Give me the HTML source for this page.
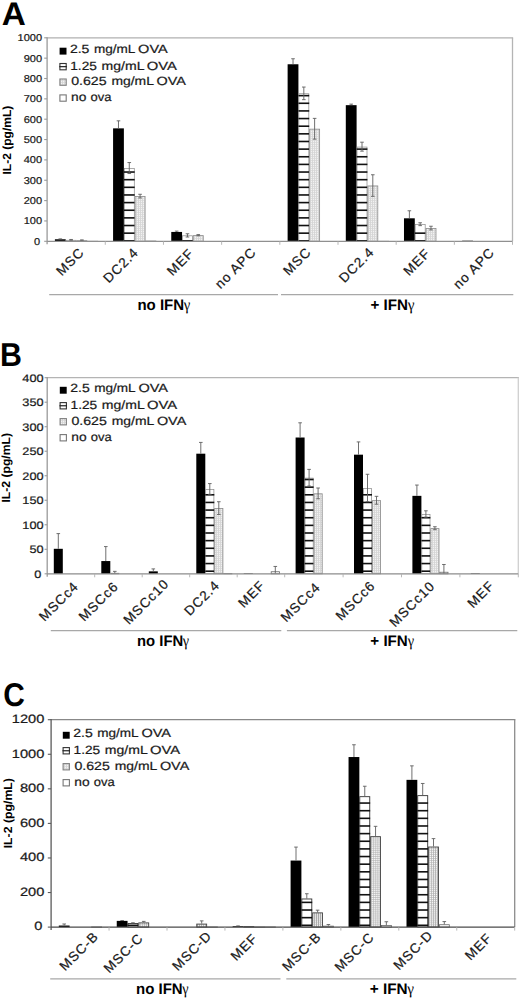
<!DOCTYPE html><html><head><meta charset="utf-8"><style>html,body{margin:0;padding:0;background:#fff;}svg{display:block;text-rendering:geometricPrecision;}</style></head><body>
<svg width="520" height="999" viewBox="0 0 520 999" font-family='"Liberation Sans", sans-serif'>
<defs><pattern id="grid" patternUnits="userSpaceOnUse" width="2" height="2"><rect width="2" height="2" fill="#f2f2f2"/><rect x="0" y="0" width="0.7" height="2" fill="#cdcdcd"/><rect x="0" y="0" width="2" height="0.7" fill="#d6d6d6"/></pattern><pattern id="gridc" patternUnits="userSpaceOnUse" width="2.05" height="1.95" x="0.4"><rect width="2.05" height="1.95" fill="#fafafa"/><rect x="0" y="0" width="0.6" height="1.95" fill="#9a9a9a"/><rect x="0" y="0" width="2.05" height="0.6" fill="#b0b0b0"/></pattern></defs>
<rect width="520" height="999" fill="#fff"/>
<text transform="translate(1.73 24.9) scale(1.02 1)" font-size="32.7" font-weight="bold" fill="#000">A</text>
<line x1="47.1" y1="37.8" x2="513.15" y2="37.8" stroke="#b0b0b0" stroke-width="1.3"/>
<line x1="512.5" y1="37.8" x2="512.5" y2="241.3" stroke="#b4b4b4" stroke-width="1.3"/>
<line x1="44.2" y1="241.3" x2="47.1" y2="241.3" stroke="#9a9a9a" stroke-width="1.1"/>
<text transform="translate(34.1 244.84) scale(1.1 1)" font-size="10" stroke="#1a1a1a" stroke-width="0.22" fill="#1a1a1a">0</text>
<line x1="44.2" y1="220.95" x2="47.1" y2="220.95" stroke="#9a9a9a" stroke-width="1.1"/>
<text transform="translate(23.67 224.49) scale(1.1 1)" font-size="10" stroke="#1a1a1a" stroke-width="0.22" fill="#1a1a1a">100</text>
<line x1="44.2" y1="200.6" x2="47.1" y2="200.6" stroke="#9a9a9a" stroke-width="1.1"/>
<text transform="translate(23.67 204.14) scale(1.1 1)" font-size="10" stroke="#1a1a1a" stroke-width="0.22" fill="#1a1a1a">200</text>
<line x1="44.2" y1="180.25" x2="47.1" y2="180.25" stroke="#9a9a9a" stroke-width="1.1"/>
<text transform="translate(23.67 183.79) scale(1.1 1)" font-size="10" stroke="#1a1a1a" stroke-width="0.22" fill="#1a1a1a">300</text>
<line x1="44.2" y1="159.9" x2="47.1" y2="159.9" stroke="#9a9a9a" stroke-width="1.1"/>
<text transform="translate(23.67 163.44) scale(1.1 1)" font-size="10" stroke="#1a1a1a" stroke-width="0.22" fill="#1a1a1a">400</text>
<line x1="44.2" y1="139.55" x2="47.1" y2="139.55" stroke="#9a9a9a" stroke-width="1.1"/>
<text transform="translate(23.67 143.09) scale(1.1 1)" font-size="10" stroke="#1a1a1a" stroke-width="0.22" fill="#1a1a1a">500</text>
<line x1="44.2" y1="119.2" x2="47.1" y2="119.2" stroke="#9a9a9a" stroke-width="1.1"/>
<text transform="translate(23.67 122.74) scale(1.1 1)" font-size="10" stroke="#1a1a1a" stroke-width="0.22" fill="#1a1a1a">600</text>
<line x1="44.2" y1="98.85" x2="47.1" y2="98.85" stroke="#9a9a9a" stroke-width="1.1"/>
<text transform="translate(23.67 102.39) scale(1.1 1)" font-size="10" stroke="#1a1a1a" stroke-width="0.22" fill="#1a1a1a">700</text>
<line x1="44.2" y1="78.5" x2="47.1" y2="78.5" stroke="#9a9a9a" stroke-width="1.1"/>
<text transform="translate(23.67 82.04) scale(1.1 1)" font-size="10" stroke="#1a1a1a" stroke-width="0.22" fill="#1a1a1a">800</text>
<line x1="44.2" y1="58.15" x2="47.1" y2="58.15" stroke="#9a9a9a" stroke-width="1.1"/>
<text transform="translate(23.67 61.69) scale(1.1 1)" font-size="10" stroke="#1a1a1a" stroke-width="0.22" fill="#1a1a1a">900</text>
<line x1="44.2" y1="37.8" x2="47.1" y2="37.8" stroke="#9a9a9a" stroke-width="1.1"/>
<text transform="translate(17.55 41.34) scale(1.1 1)" font-size="10" stroke="#1a1a1a" stroke-width="0.22" fill="#1a1a1a">1000</text>
<rect x="54.9" y="239.27" width="10.8" height="2.03" fill="#000"/>
<line x1="60.3" y1="238.86" x2="60.3" y2="239.27" stroke="#606060" stroke-width="0.9"/>
<line x1="58.5" y1="238.86" x2="62.1" y2="238.86" stroke="#606060" stroke-width="0.9"/>
<rect x="66.1" y="240.28" width="10" height="1.02" fill="#fff" stroke="#888" stroke-width="0.7"/>
<line x1="71.1" y1="239.47" x2="71.1" y2="240.28" stroke="#606060" stroke-width="0.9"/>
<line x1="69.3" y1="239.47" x2="72.9" y2="239.47" stroke="#606060" stroke-width="0.9"/>
<line x1="69.3" y1="240.28" x2="72.9" y2="240.28" stroke="#606060" stroke-width="0.9"/>
<rect x="76.9" y="240.68" width="10" height="0.62" fill="url(#grid)" stroke="#8a8a8a" stroke-width="0.8"/>
<line x1="81.9" y1="239.88" x2="81.9" y2="240.69" stroke="#606060" stroke-width="0.9"/>
<line x1="80.1" y1="239.88" x2="83.7" y2="239.88" stroke="#606060" stroke-width="0.9"/>
<line x1="80.1" y1="240.69" x2="83.7" y2="240.69" stroke="#606060" stroke-width="0.9"/>
<rect x="87.7" y="241.29" width="10" height="0.01" fill="#fff" stroke="#666" stroke-width="0.8"/>
<rect x="113.08" y="128.36" width="10.8" height="112.94" fill="#000"/>
<line x1="118.48" y1="120.83" x2="118.48" y2="128.36" stroke="#606060" stroke-width="0.9"/>
<line x1="116.68" y1="120.83" x2="120.28" y2="120.83" stroke="#606060" stroke-width="0.9"/>
<rect x="124.28" y="168.44" width="10" height="72.86" fill="#fff" stroke="#888" stroke-width="0.7"/>
<rect x="123.88" y="240" width="10.8" height="1.6" fill="#111"/>
<rect x="123.88" y="232.36" width="10.8" height="1.6" fill="#111"/>
<rect x="123.88" y="224.72" width="10.8" height="1.6" fill="#111"/>
<rect x="123.88" y="217.08" width="10.8" height="1.6" fill="#111"/>
<rect x="123.88" y="209.44" width="10.8" height="1.6" fill="#111"/>
<rect x="123.88" y="201.8" width="10.8" height="1.6" fill="#111"/>
<rect x="123.88" y="194.16" width="10.8" height="1.6" fill="#111"/>
<rect x="123.88" y="186.52" width="10.8" height="1.6" fill="#111"/>
<rect x="123.88" y="178.88" width="10.8" height="1.6" fill="#111"/>
<rect x="123.88" y="171.24" width="10.8" height="1.6" fill="#111"/>
<line x1="129.28" y1="162.55" x2="129.28" y2="173.53" stroke="#606060" stroke-width="0.9"/>
<line x1="127.48" y1="162.55" x2="131.08" y2="162.55" stroke="#606060" stroke-width="0.9"/>
<line x1="127.48" y1="173.53" x2="131.08" y2="173.53" stroke="#606060" stroke-width="0.9"/>
<rect x="135.08" y="196.52" width="10" height="44.78" fill="url(#grid)" stroke="#8a8a8a" stroke-width="0.8"/>
<line x1="140.08" y1="194.29" x2="140.08" y2="197.95" stroke="#606060" stroke-width="0.9"/>
<line x1="138.28" y1="194.29" x2="141.88" y2="194.29" stroke="#606060" stroke-width="0.9"/>
<line x1="138.28" y1="197.95" x2="141.88" y2="197.95" stroke="#606060" stroke-width="0.9"/>
<rect x="145.88" y="241.09" width="10" height="0.21" fill="#fff" stroke="#666" stroke-width="0.8"/>
<rect x="171.26" y="231.94" width="10.8" height="9.36" fill="#000"/>
<line x1="176.66" y1="231.12" x2="176.66" y2="231.94" stroke="#606060" stroke-width="0.9"/>
<line x1="174.86" y1="231.12" x2="178.46" y2="231.12" stroke="#606060" stroke-width="0.9"/>
<rect x="182.46" y="235.8" width="10" height="5.5" fill="#fff" stroke="#888" stroke-width="0.7"/>
<rect x="182.06" y="240" width="10.8" height="1.6" fill="#111"/>
<line x1="187.46" y1="233.77" x2="187.46" y2="237.03" stroke="#606060" stroke-width="0.9"/>
<line x1="185.66" y1="233.77" x2="189.26" y2="233.77" stroke="#606060" stroke-width="0.9"/>
<line x1="185.66" y1="237.03" x2="189.26" y2="237.03" stroke="#606060" stroke-width="0.9"/>
<rect x="193.26" y="235.6" width="10" height="5.7" fill="url(#grid)" stroke="#8a8a8a" stroke-width="0.8"/>
<line x1="198.26" y1="234.58" x2="198.26" y2="235.81" stroke="#606060" stroke-width="0.9"/>
<line x1="196.46" y1="234.58" x2="200.06" y2="234.58" stroke="#606060" stroke-width="0.9"/>
<line x1="196.46" y1="235.81" x2="200.06" y2="235.81" stroke="#606060" stroke-width="0.9"/>
<rect x="229.44" y="241.1" width="10.8" height="0.2" fill="#000"/>
<rect x="287.62" y="64.26" width="10.8" height="177.04" fill="#000"/>
<line x1="293.02" y1="58.76" x2="293.02" y2="64.26" stroke="#606060" stroke-width="0.9"/>
<line x1="291.22" y1="58.76" x2="294.82" y2="58.76" stroke="#606060" stroke-width="0.9"/>
<rect x="298.82" y="93.76" width="10" height="147.54" fill="#fff" stroke="#888" stroke-width="0.7"/>
<rect x="298.42" y="240" width="10.8" height="1.6" fill="#111"/>
<rect x="298.42" y="232.36" width="10.8" height="1.6" fill="#111"/>
<rect x="298.42" y="224.72" width="10.8" height="1.6" fill="#111"/>
<rect x="298.42" y="217.08" width="10.8" height="1.6" fill="#111"/>
<rect x="298.42" y="209.44" width="10.8" height="1.6" fill="#111"/>
<rect x="298.42" y="201.8" width="10.8" height="1.6" fill="#111"/>
<rect x="298.42" y="194.16" width="10.8" height="1.6" fill="#111"/>
<rect x="298.42" y="186.52" width="10.8" height="1.6" fill="#111"/>
<rect x="298.42" y="178.88" width="10.8" height="1.6" fill="#111"/>
<rect x="298.42" y="171.24" width="10.8" height="1.6" fill="#111"/>
<rect x="298.42" y="163.6" width="10.8" height="1.6" fill="#111"/>
<rect x="298.42" y="155.96" width="10.8" height="1.6" fill="#111"/>
<rect x="298.42" y="148.32" width="10.8" height="1.6" fill="#111"/>
<rect x="298.42" y="140.68" width="10.8" height="1.6" fill="#111"/>
<rect x="298.42" y="133.04" width="10.8" height="1.6" fill="#111"/>
<rect x="298.42" y="125.4" width="10.8" height="1.6" fill="#111"/>
<rect x="298.42" y="117.76" width="10.8" height="1.6" fill="#111"/>
<rect x="298.42" y="110.12" width="10.8" height="1.6" fill="#111"/>
<rect x="298.42" y="102.48" width="10.8" height="1.6" fill="#111"/>
<rect x="298.42" y="94.84" width="10.8" height="1.6" fill="#111"/>
<line x1="303.82" y1="87.05" x2="303.82" y2="99.66" stroke="#606060" stroke-width="0.9"/>
<line x1="302.02" y1="87.05" x2="305.62" y2="87.05" stroke="#606060" stroke-width="0.9"/>
<line x1="302.02" y1="99.66" x2="305.62" y2="99.66" stroke="#606060" stroke-width="0.9"/>
<rect x="309.62" y="129.16" width="10" height="112.14" fill="url(#grid)" stroke="#8a8a8a" stroke-width="0.8"/>
<line x1="314.62" y1="118.39" x2="314.62" y2="139.14" stroke="#606060" stroke-width="0.9"/>
<line x1="312.82" y1="118.39" x2="316.42" y2="118.39" stroke="#606060" stroke-width="0.9"/>
<line x1="312.82" y1="139.14" x2="316.42" y2="139.14" stroke="#606060" stroke-width="0.9"/>
<rect x="345.8" y="105.16" width="10.8" height="136.14" fill="#000"/>
<line x1="351.2" y1="104.14" x2="351.2" y2="105.16" stroke="#606060" stroke-width="0.9"/>
<line x1="349.4" y1="104.14" x2="353" y2="104.14" stroke="#606060" stroke-width="0.9"/>
<rect x="357" y="147.07" width="10" height="94.23" fill="#fff" stroke="#888" stroke-width="0.7"/>
<rect x="356.6" y="240" width="10.8" height="1.6" fill="#111"/>
<rect x="356.6" y="232.36" width="10.8" height="1.6" fill="#111"/>
<rect x="356.6" y="224.72" width="10.8" height="1.6" fill="#111"/>
<rect x="356.6" y="217.08" width="10.8" height="1.6" fill="#111"/>
<rect x="356.6" y="209.44" width="10.8" height="1.6" fill="#111"/>
<rect x="356.6" y="201.8" width="10.8" height="1.6" fill="#111"/>
<rect x="356.6" y="194.16" width="10.8" height="1.6" fill="#111"/>
<rect x="356.6" y="186.52" width="10.8" height="1.6" fill="#111"/>
<rect x="356.6" y="178.88" width="10.8" height="1.6" fill="#111"/>
<rect x="356.6" y="171.24" width="10.8" height="1.6" fill="#111"/>
<rect x="356.6" y="163.6" width="10.8" height="1.6" fill="#111"/>
<rect x="356.6" y="155.96" width="10.8" height="1.6" fill="#111"/>
<rect x="356.6" y="148.32" width="10.8" height="1.6" fill="#111"/>
<line x1="362" y1="142.2" x2="362" y2="151.15" stroke="#606060" stroke-width="0.9"/>
<line x1="360.2" y1="142.2" x2="363.8" y2="142.2" stroke="#606060" stroke-width="0.9"/>
<line x1="360.2" y1="151.15" x2="363.8" y2="151.15" stroke="#606060" stroke-width="0.9"/>
<rect x="367.8" y="185.94" width="10" height="55.36" fill="url(#grid)" stroke="#8a8a8a" stroke-width="0.8"/>
<line x1="372.8" y1="174.76" x2="372.8" y2="196.33" stroke="#606060" stroke-width="0.9"/>
<line x1="371" y1="174.76" x2="374.6" y2="174.76" stroke="#606060" stroke-width="0.9"/>
<line x1="371" y1="196.33" x2="374.6" y2="196.33" stroke="#606060" stroke-width="0.9"/>
<rect x="378.6" y="241.29" width="10" height="0.01" fill="#fff" stroke="#666" stroke-width="0.8"/>
<rect x="403.98" y="218.3" width="10.8" height="23" fill="#000"/>
<line x1="409.38" y1="210.78" x2="409.38" y2="218.3" stroke="#606060" stroke-width="0.9"/>
<line x1="407.58" y1="210.78" x2="411.18" y2="210.78" stroke="#606060" stroke-width="0.9"/>
<rect x="415.18" y="224.61" width="10" height="16.69" fill="#fff" stroke="#888" stroke-width="0.7"/>
<rect x="414.78" y="240" width="10.8" height="1.6" fill="#111"/>
<rect x="414.78" y="232.36" width="10.8" height="1.6" fill="#111"/>
<line x1="420.18" y1="222.78" x2="420.18" y2="225.63" stroke="#606060" stroke-width="0.9"/>
<line x1="418.38" y1="222.78" x2="421.98" y2="222.78" stroke="#606060" stroke-width="0.9"/>
<line x1="418.38" y1="225.63" x2="421.98" y2="225.63" stroke="#606060" stroke-width="0.9"/>
<rect x="425.98" y="228.47" width="10" height="12.83" fill="url(#grid)" stroke="#8a8a8a" stroke-width="0.8"/>
<line x1="430.98" y1="226.24" x2="430.98" y2="229.9" stroke="#606060" stroke-width="0.9"/>
<line x1="429.18" y1="226.24" x2="432.78" y2="226.24" stroke="#606060" stroke-width="0.9"/>
<line x1="429.18" y1="229.9" x2="432.78" y2="229.9" stroke="#606060" stroke-width="0.9"/>
<rect x="462.16" y="240.69" width="10.8" height="0.61" fill="#000"/>
<line x1="47.1" y1="37.2" x2="47.1" y2="244.3" stroke="#9a9a9a" stroke-width="1.3"/>
<line x1="47.1" y1="241.3" x2="512.5" y2="241.3" stroke="#909090" stroke-width="1.2"/>
<line x1="105.28" y1="241.3" x2="105.28" y2="244.8" stroke="#b0b0b0" stroke-width="0.9"/>
<line x1="163.46" y1="241.3" x2="163.46" y2="244.8" stroke="#b0b0b0" stroke-width="0.9"/>
<line x1="221.64" y1="241.3" x2="221.64" y2="244.8" stroke="#b0b0b0" stroke-width="0.9"/>
<line x1="279.82" y1="241.3" x2="279.82" y2="244.8" stroke="#b0b0b0" stroke-width="0.9"/>
<line x1="338" y1="241.3" x2="338" y2="244.8" stroke="#b0b0b0" stroke-width="0.9"/>
<line x1="396.18" y1="241.3" x2="396.18" y2="244.8" stroke="#b0b0b0" stroke-width="0.9"/>
<line x1="454.36" y1="241.3" x2="454.36" y2="244.8" stroke="#b0b0b0" stroke-width="0.9"/>
<line x1="512.5" y1="241.3" x2="512.5" y2="244.8" stroke="#b0b0b0" stroke-width="0.9"/>
<text x="85" y="253.2" font-size="13.5" letter-spacing="1.0" text-anchor="end" fill="#1a1a1a" stroke="#1a1a1a" stroke-width="0.22" transform="rotate(-45 85 253.2)">MSC</text>
<text x="139.4" y="253.2" font-size="13.5" letter-spacing="1.0" text-anchor="end" fill="#1a1a1a" stroke="#1a1a1a" stroke-width="0.22" transform="rotate(-45 139.4 253.2)">DC2.4</text>
<text x="194.8" y="254.2" font-size="13.5" letter-spacing="1.0" text-anchor="end" fill="#1a1a1a" stroke="#1a1a1a" stroke-width="0.22" transform="rotate(-45 194.8 254.2)">MEF</text>
<text x="257" y="253" font-size="13.5" letter-spacing="1.0" text-anchor="end" fill="#1a1a1a" stroke="#1a1a1a" stroke-width="0.22" transform="rotate(-45 257 253)">no APC</text>
<text x="312" y="252.8" font-size="13.5" letter-spacing="1.0" text-anchor="end" fill="#1a1a1a" stroke="#1a1a1a" stroke-width="0.22" transform="rotate(-45 312 252.8)">MSC</text>
<text x="375" y="252.8" font-size="13.5" letter-spacing="1.0" text-anchor="end" fill="#1a1a1a" stroke="#1a1a1a" stroke-width="0.22" transform="rotate(-45 375 252.8)">DC2.4</text>
<text x="431.2" y="254.2" font-size="13.5" letter-spacing="1.0" text-anchor="end" fill="#1a1a1a" stroke="#1a1a1a" stroke-width="0.22" transform="rotate(-45 431.2 254.2)">MEF</text>
<text x="495.4" y="253.2" font-size="13.5" letter-spacing="1.0" text-anchor="end" fill="#1a1a1a" stroke="#1a1a1a" stroke-width="0.22" transform="rotate(-45 495.4 253.2)">no APC</text>
<line x1="49.2" y1="294.6" x2="278" y2="294.6" stroke="#a8a8a8" stroke-width="1.3"/>
<line x1="281" y1="294.6" x2="513.3" y2="294.6" stroke="#a8a8a8" stroke-width="1.3"/>
<text transform="translate(137.41 310.1) scale(0.98 1)" font-size="15.3" font-weight="bold" fill="#000">no IFN</text>
<text transform="translate(183.74 310.1) scale(0.91 1)" font-size="16.2" font-family="Liberation Serif, serif" fill="#000">γ</text>
<text transform="translate(370.56 310.3) scale(0.99 1)" font-size="15.3" font-weight="bold" fill="#000">+ IFN</text>
<text transform="translate(407.84 310.3) scale(0.94 1)" font-size="16.2" font-family="Liberation Serif, serif" fill="#000">γ</text>
<text transform="translate(11.1 174.5) rotate(-90) scale(1.02 1)" font-size="11.8" font-weight="bold" fill="#000">IL-2 (pg/mL)</text>
<rect x="59.6" y="47.7" width="6.9" height="6.9" fill="#000"/>
<text transform="translate(69.9 53.3) scale(1.17 1)" font-size="12" stroke="#1a1a1a" stroke-width="0.22" fill="#1a1a1a">2.5</text>
<text transform="translate(93.9 53.3) scale(1.13 1)" font-size="12" stroke="#1a1a1a" stroke-width="0.22" fill="#1a1a1a">mg/mL</text>
<text transform="translate(138.1 53.3) scale(1.21 1)" font-size="12" stroke="#1a1a1a" stroke-width="0.22" fill="#1a1a1a">OVA</text>
<rect x="59.9" y="63.5" width="6.3" height="6.3" fill="#fff" stroke="#333" stroke-width="1.1"/>
<rect x="59.3" y="66.05" width="7.5" height="1.2" fill="#222"/>
<text transform="translate(70.26 69.5) scale(1.14 1)" font-size="12" stroke="#1a1a1a" stroke-width="0.22" fill="#1a1a1a">1.25</text>
<text transform="translate(101.57 69.5) scale(1.17 1)" font-size="12" stroke="#1a1a1a" stroke-width="0.22" fill="#1a1a1a">mg/mL</text>
<text transform="translate(146.79 69.5) scale(1.23 1)" font-size="12" stroke="#1a1a1a" stroke-width="0.22" fill="#1a1a1a">OVA</text>
<rect x="59.9" y="79" width="6.3" height="6.3" fill="url(#grid)" stroke="#808080" stroke-width="1.1"/>
<text transform="translate(71.13 85) scale(1.18 1)" font-size="12" stroke="#1a1a1a" stroke-width="0.22" fill="#1a1a1a">0.625</text>
<text transform="translate(111.38 85) scale(1.16 1)" font-size="12" stroke="#1a1a1a" stroke-width="0.22" fill="#1a1a1a">mg/mL</text>
<text transform="translate(156.61 85) scale(1.2 1)" font-size="12" stroke="#1a1a1a" stroke-width="0.22" fill="#1a1a1a">OVA</text>
<rect x="59.9" y="94.9" width="6.3" height="6.3" fill="#fff" stroke="#777" stroke-width="1.1"/>
<text transform="translate(70.99 100.9) scale(1.15 1)" font-size="12" stroke="#1a1a1a" stroke-width="0.22" fill="#1a1a1a">no</text>
<text transform="translate(90.56 100.9) scale(1.08 1)" font-size="12" stroke="#1a1a1a" stroke-width="0.22" fill="#1a1a1a">ova</text>
<text transform="translate(-0.11 365.7) scale(0.92 1)" font-size="32.99" font-weight="bold" fill="#000">B</text>
<line x1="47.2" y1="377.6" x2="518.95" y2="377.6" stroke="#b4b4b4" stroke-width="1.3"/>
<line x1="518.3" y1="377.6" x2="518.3" y2="573.8" stroke="#cfcfcf" stroke-width="1.3"/>
<line x1="44.6" y1="573.8" x2="47.2" y2="573.8" stroke="#9a9a9a" stroke-width="1.1"/>
<text transform="translate(34.19 577.66) scale(1.17 1)" font-size="10.9" stroke="#1a1a1a" stroke-width="0.22" fill="#1a1a1a">0</text>
<line x1="44.6" y1="549.29" x2="47.2" y2="549.29" stroke="#9a9a9a" stroke-width="1.1"/>
<text transform="translate(29.4 553.15) scale(1.17 1)" font-size="10.9" stroke="#1a1a1a" stroke-width="0.22" fill="#1a1a1a">50</text>
<line x1="44.6" y1="524.77" x2="47.2" y2="524.77" stroke="#9a9a9a" stroke-width="1.1"/>
<text transform="translate(22.31 528.63) scale(1.17 1)" font-size="10.9" stroke="#1a1a1a" stroke-width="0.22" fill="#1a1a1a">100</text>
<line x1="44.6" y1="500.26" x2="47.2" y2="500.26" stroke="#9a9a9a" stroke-width="1.1"/>
<text transform="translate(22.31 504.12) scale(1.17 1)" font-size="10.9" stroke="#1a1a1a" stroke-width="0.22" fill="#1a1a1a">150</text>
<line x1="44.6" y1="475.75" x2="47.2" y2="475.75" stroke="#9a9a9a" stroke-width="1.1"/>
<text transform="translate(22.31 479.61) scale(1.17 1)" font-size="10.9" stroke="#1a1a1a" stroke-width="0.22" fill="#1a1a1a">200</text>
<line x1="44.6" y1="451.24" x2="47.2" y2="451.24" stroke="#9a9a9a" stroke-width="1.1"/>
<text transform="translate(22.31 455.1) scale(1.17 1)" font-size="10.9" stroke="#1a1a1a" stroke-width="0.22" fill="#1a1a1a">250</text>
<line x1="44.6" y1="426.73" x2="47.2" y2="426.73" stroke="#9a9a9a" stroke-width="1.1"/>
<text transform="translate(22.31 430.58) scale(1.17 1)" font-size="10.9" stroke="#1a1a1a" stroke-width="0.22" fill="#1a1a1a">300</text>
<line x1="44.6" y1="402.21" x2="47.2" y2="402.21" stroke="#9a9a9a" stroke-width="1.1"/>
<text transform="translate(22.31 406.07) scale(1.17 1)" font-size="10.9" stroke="#1a1a1a" stroke-width="0.22" fill="#1a1a1a">350</text>
<line x1="44.6" y1="377.7" x2="47.2" y2="377.7" stroke="#9a9a9a" stroke-width="1.1"/>
<text transform="translate(22.31 381.56) scale(1.17 1)" font-size="10.9" stroke="#1a1a1a" stroke-width="0.22" fill="#1a1a1a">400</text>
<rect x="53.8" y="548.8" width="9" height="25" fill="#000"/>
<line x1="58.3" y1="533.6" x2="58.3" y2="548.8" stroke="#606060" stroke-width="0.9"/>
<line x1="56.5" y1="533.6" x2="60.1" y2="533.6" stroke="#606060" stroke-width="0.9"/>
<rect x="101.3" y="561.05" width="9" height="12.75" fill="#000"/>
<line x1="105.8" y1="546.59" x2="105.8" y2="561.05" stroke="#606060" stroke-width="0.9"/>
<line x1="104" y1="546.59" x2="107.6" y2="546.59" stroke="#606060" stroke-width="0.9"/>
<rect x="110.7" y="573.22" width="8.2" height="0.58" fill="#fff" stroke="#888" stroke-width="0.7"/>
<line x1="114.8" y1="571.35" x2="114.8" y2="573.8" stroke="#606060" stroke-width="0.9"/>
<line x1="113" y1="571.35" x2="116.6" y2="571.35" stroke="#606060" stroke-width="0.9"/>
<rect x="148.8" y="571.35" width="9" height="2.45" fill="#000"/>
<line x1="153.3" y1="568.9" x2="153.3" y2="571.35" stroke="#606060" stroke-width="0.9"/>
<line x1="151.5" y1="568.9" x2="155.1" y2="568.9" stroke="#606060" stroke-width="0.9"/>
<rect x="196.3" y="453.69" width="9" height="120.11" fill="#000"/>
<line x1="200.8" y1="442.41" x2="200.8" y2="453.69" stroke="#606060" stroke-width="0.9"/>
<line x1="199" y1="442.41" x2="202.6" y2="442.41" stroke="#606060" stroke-width="0.9"/>
<rect x="205.7" y="489.39" width="8.2" height="84.41" fill="#fff" stroke="#888" stroke-width="0.7"/>
<rect x="205.3" y="570.4" width="9" height="1.6" fill="#111"/>
<rect x="205.3" y="562.76" width="9" height="1.6" fill="#111"/>
<rect x="205.3" y="555.12" width="9" height="1.6" fill="#111"/>
<rect x="205.3" y="547.48" width="9" height="1.6" fill="#111"/>
<rect x="205.3" y="539.84" width="9" height="1.6" fill="#111"/>
<rect x="205.3" y="532.2" width="9" height="1.6" fill="#111"/>
<rect x="205.3" y="524.56" width="9" height="1.6" fill="#111"/>
<rect x="205.3" y="516.92" width="9" height="1.6" fill="#111"/>
<rect x="205.3" y="509.28" width="9" height="1.6" fill="#111"/>
<rect x="205.3" y="501.64" width="9" height="1.6" fill="#111"/>
<rect x="205.3" y="494" width="9" height="1.6" fill="#111"/>
<line x1="209.8" y1="483.59" x2="209.8" y2="494.38" stroke="#606060" stroke-width="0.9"/>
<line x1="208" y1="483.59" x2="211.6" y2="483.59" stroke="#606060" stroke-width="0.9"/>
<line x1="208" y1="494.38" x2="211.6" y2="494.38" stroke="#606060" stroke-width="0.9"/>
<rect x="214.7" y="508.51" width="8.2" height="65.29" fill="url(#grid)" stroke="#8a8a8a" stroke-width="0.8"/>
<line x1="218.8" y1="501.73" x2="218.8" y2="514.48" stroke="#606060" stroke-width="0.9"/>
<line x1="217" y1="501.73" x2="220.6" y2="501.73" stroke="#606060" stroke-width="0.9"/>
<line x1="217" y1="514.48" x2="220.6" y2="514.48" stroke="#606060" stroke-width="0.9"/>
<rect x="223.7" y="573.71" width="8.2" height="0.09" fill="#fff" stroke="#666" stroke-width="0.8"/>
<rect x="243.8" y="573.31" width="9" height="0.49" fill="#000"/>
<rect x="271.2" y="571.75" width="8.2" height="2.05" fill="#fff" stroke="#666" stroke-width="0.8"/>
<line x1="275.3" y1="566.45" x2="275.3" y2="573.8" stroke="#606060" stroke-width="0.9"/>
<line x1="273.5" y1="566.45" x2="277.1" y2="566.45" stroke="#606060" stroke-width="0.9"/>
<rect x="295.6" y="437.51" width="9" height="136.29" fill="#000"/>
<line x1="300.1" y1="422.8" x2="300.1" y2="437.51" stroke="#606060" stroke-width="0.9"/>
<line x1="298.3" y1="422.8" x2="301.9" y2="422.8" stroke="#606060" stroke-width="0.9"/>
<rect x="305" y="478.11" width="8.2" height="95.69" fill="#fff" stroke="#888" stroke-width="0.7"/>
<rect x="304.6" y="570.4" width="9" height="1.6" fill="#111"/>
<rect x="304.6" y="562.76" width="9" height="1.6" fill="#111"/>
<rect x="304.6" y="555.12" width="9" height="1.6" fill="#111"/>
<rect x="304.6" y="547.48" width="9" height="1.6" fill="#111"/>
<rect x="304.6" y="539.84" width="9" height="1.6" fill="#111"/>
<rect x="304.6" y="532.2" width="9" height="1.6" fill="#111"/>
<rect x="304.6" y="524.56" width="9" height="1.6" fill="#111"/>
<rect x="304.6" y="516.92" width="9" height="1.6" fill="#111"/>
<rect x="304.6" y="509.28" width="9" height="1.6" fill="#111"/>
<rect x="304.6" y="501.64" width="9" height="1.6" fill="#111"/>
<rect x="304.6" y="494" width="9" height="1.6" fill="#111"/>
<rect x="304.6" y="486.36" width="9" height="1.6" fill="#111"/>
<rect x="304.6" y="478.72" width="9" height="1.6" fill="#111"/>
<line x1="309.1" y1="469.38" x2="309.1" y2="486.05" stroke="#606060" stroke-width="0.9"/>
<line x1="307.3" y1="469.38" x2="310.9" y2="469.38" stroke="#606060" stroke-width="0.9"/>
<line x1="307.3" y1="486.05" x2="310.9" y2="486.05" stroke="#606060" stroke-width="0.9"/>
<rect x="314" y="493.8" width="8.2" height="80" fill="url(#grid)" stroke="#8a8a8a" stroke-width="0.8"/>
<line x1="318.1" y1="488.01" x2="318.1" y2="498.79" stroke="#606060" stroke-width="0.9"/>
<line x1="316.3" y1="488.01" x2="319.9" y2="488.01" stroke="#606060" stroke-width="0.9"/>
<line x1="316.3" y1="498.79" x2="319.9" y2="498.79" stroke="#606060" stroke-width="0.9"/>
<rect x="354" y="454.67" width="9" height="119.13" fill="#000"/>
<line x1="358.5" y1="441.92" x2="358.5" y2="454.67" stroke="#606060" stroke-width="0.9"/>
<line x1="356.7" y1="441.92" x2="360.3" y2="441.92" stroke="#606060" stroke-width="0.9"/>
<rect x="363.4" y="488.41" width="8.2" height="85.39" fill="#fff" stroke="#888" stroke-width="0.7"/>
<rect x="363" y="570.4" width="9" height="1.6" fill="#111"/>
<rect x="363" y="562.76" width="9" height="1.6" fill="#111"/>
<rect x="363" y="555.12" width="9" height="1.6" fill="#111"/>
<rect x="363" y="547.48" width="9" height="1.6" fill="#111"/>
<rect x="363" y="539.84" width="9" height="1.6" fill="#111"/>
<rect x="363" y="532.2" width="9" height="1.6" fill="#111"/>
<rect x="363" y="524.56" width="9" height="1.6" fill="#111"/>
<rect x="363" y="516.92" width="9" height="1.6" fill="#111"/>
<rect x="363" y="509.28" width="9" height="1.6" fill="#111"/>
<rect x="363" y="501.64" width="9" height="1.6" fill="#111"/>
<rect x="363" y="494" width="9" height="1.6" fill="#111"/>
<line x1="367.5" y1="474.28" x2="367.5" y2="501.73" stroke="#606060" stroke-width="0.9"/>
<line x1="365.7" y1="474.28" x2="369.3" y2="474.28" stroke="#606060" stroke-width="0.9"/>
<line x1="365.7" y1="501.73" x2="369.3" y2="501.73" stroke="#606060" stroke-width="0.9"/>
<rect x="372.4" y="500.66" width="8.2" height="73.14" fill="url(#grid)" stroke="#8a8a8a" stroke-width="0.8"/>
<line x1="376.5" y1="496.34" x2="376.5" y2="504.18" stroke="#606060" stroke-width="0.9"/>
<line x1="374.7" y1="496.34" x2="378.3" y2="496.34" stroke="#606060" stroke-width="0.9"/>
<line x1="374.7" y1="504.18" x2="378.3" y2="504.18" stroke="#606060" stroke-width="0.9"/>
<rect x="412.4" y="495.85" width="9" height="77.95" fill="#000"/>
<line x1="416.9" y1="485.06" x2="416.9" y2="495.85" stroke="#606060" stroke-width="0.9"/>
<line x1="415.1" y1="485.06" x2="418.7" y2="485.06" stroke="#606060" stroke-width="0.9"/>
<rect x="421.8" y="514.39" width="8.2" height="59.41" fill="#fff" stroke="#888" stroke-width="0.7"/>
<rect x="421.4" y="570.4" width="9" height="1.6" fill="#111"/>
<rect x="421.4" y="562.76" width="9" height="1.6" fill="#111"/>
<rect x="421.4" y="555.12" width="9" height="1.6" fill="#111"/>
<rect x="421.4" y="547.48" width="9" height="1.6" fill="#111"/>
<rect x="421.4" y="539.84" width="9" height="1.6" fill="#111"/>
<rect x="421.4" y="532.2" width="9" height="1.6" fill="#111"/>
<rect x="421.4" y="524.56" width="9" height="1.6" fill="#111"/>
<rect x="421.4" y="516.92" width="9" height="1.6" fill="#111"/>
<line x1="425.9" y1="510.8" x2="425.9" y2="517.18" stroke="#606060" stroke-width="0.9"/>
<line x1="424.1" y1="510.8" x2="427.7" y2="510.8" stroke="#606060" stroke-width="0.9"/>
<line x1="424.1" y1="517.18" x2="427.7" y2="517.18" stroke="#606060" stroke-width="0.9"/>
<rect x="430.8" y="528.61" width="8.2" height="45.19" fill="url(#grid)" stroke="#8a8a8a" stroke-width="0.8"/>
<line x1="434.9" y1="526.74" x2="434.9" y2="529.68" stroke="#606060" stroke-width="0.9"/>
<line x1="433.1" y1="526.74" x2="436.7" y2="526.74" stroke="#606060" stroke-width="0.9"/>
<line x1="433.1" y1="529.68" x2="436.7" y2="529.68" stroke="#606060" stroke-width="0.9"/>
<rect x="439.8" y="572.24" width="8.2" height="1.56" fill="#fff" stroke="#666" stroke-width="0.8"/>
<line x1="443.9" y1="564.49" x2="443.9" y2="573.8" stroke="#606060" stroke-width="0.9"/>
<line x1="442.1" y1="564.49" x2="445.7" y2="564.49" stroke="#606060" stroke-width="0.9"/>
<rect x="470.8" y="573.31" width="9" height="0.49" fill="#000"/>
<line x1="47.2" y1="377" x2="47.2" y2="576.8" stroke="#9a9a9a" stroke-width="1.3"/>
<line x1="47.2" y1="573.8" x2="518.3" y2="573.8" stroke="#8c8c8c" stroke-width="1.2"/>
<line x1="94.7" y1="573.8" x2="94.7" y2="577.3" stroke="#b0b0b0" stroke-width="0.9"/>
<line x1="142.2" y1="573.8" x2="142.2" y2="577.3" stroke="#b0b0b0" stroke-width="0.9"/>
<line x1="189.7" y1="573.8" x2="189.7" y2="577.3" stroke="#b0b0b0" stroke-width="0.9"/>
<line x1="237.2" y1="573.8" x2="237.2" y2="577.3" stroke="#b0b0b0" stroke-width="0.9"/>
<line x1="284.7" y1="573.8" x2="284.7" y2="577.3" stroke="#b0b0b0" stroke-width="0.9"/>
<line x1="343.1" y1="573.8" x2="343.1" y2="577.3" stroke="#b0b0b0" stroke-width="0.9"/>
<line x1="401.5" y1="573.8" x2="401.5" y2="577.3" stroke="#b0b0b0" stroke-width="0.9"/>
<line x1="459.9" y1="573.8" x2="459.9" y2="577.3" stroke="#b0b0b0" stroke-width="0.9"/>
<line x1="518.3" y1="573.8" x2="518.3" y2="577.3" stroke="#b0b0b0" stroke-width="0.9"/>
<text x="79.4" y="587.2" font-size="13.5" letter-spacing="1.0" text-anchor="end" fill="#1a1a1a" stroke="#1a1a1a" stroke-width="0.22" transform="rotate(-45 79.4 587.2)">MSCc4</text>
<text x="119.2" y="587.2" font-size="13.5" letter-spacing="1.0" text-anchor="end" fill="#1a1a1a" stroke="#1a1a1a" stroke-width="0.22" transform="rotate(-45 119.2 587.2)">MSCc6</text>
<text x="169.8" y="584.5" font-size="13.5" letter-spacing="1.0" text-anchor="end" fill="#1a1a1a" stroke="#1a1a1a" stroke-width="0.22" transform="rotate(-45 169.8 584.5)">MSCc10</text>
<text x="220.4" y="586" font-size="13.5" letter-spacing="1.0" text-anchor="end" fill="#1a1a1a" stroke="#1a1a1a" stroke-width="0.22" transform="rotate(-45 220.4 586)">DC2.4</text>
<text x="266" y="586.2" font-size="13.5" letter-spacing="1.0" text-anchor="end" fill="#1a1a1a" stroke="#1a1a1a" stroke-width="0.22" transform="rotate(-45 266 586.2)">MEF</text>
<text x="321.2" y="588" font-size="13.5" letter-spacing="1.0" text-anchor="end" fill="#1a1a1a" stroke="#1a1a1a" stroke-width="0.22" transform="rotate(-45 321.2 588)">MSCc4</text>
<text x="376" y="586.4" font-size="13.5" letter-spacing="1.0" text-anchor="end" fill="#1a1a1a" stroke="#1a1a1a" stroke-width="0.22" transform="rotate(-45 376 586.4)">MSCc6</text>
<text x="435.8" y="586.8" font-size="13.5" letter-spacing="1.0" text-anchor="end" fill="#1a1a1a" stroke="#1a1a1a" stroke-width="0.22" transform="rotate(-45 435.8 586.8)">MSCc10</text>
<text x="495.2" y="586.4" font-size="13.5" letter-spacing="1.0" text-anchor="end" fill="#1a1a1a" stroke="#1a1a1a" stroke-width="0.22" transform="rotate(-45 495.2 586.4)">MEF</text>
<line x1="50.8" y1="630.7" x2="281.3" y2="630.7" stroke="#a8a8a8" stroke-width="1.3"/>
<line x1="286.9" y1="630.7" x2="517.3" y2="630.7" stroke="#a8a8a8" stroke-width="1.3"/>
<text transform="translate(137.02 645.6) scale(0.97 1)" font-size="15.3" font-weight="bold" fill="#000">no IFN</text>
<text transform="translate(182.84 645.6) scale(0.88 1)" font-size="16.2" font-family="Liberation Serif, serif" fill="#000">γ</text>
<text transform="translate(370.36 645.6) scale(0.99 1)" font-size="15.3" font-weight="bold" fill="#000">+ IFN</text>
<text transform="translate(407.64 645.6) scale(0.89 1)" font-size="16.2" font-family="Liberation Serif, serif" fill="#000">γ</text>
<text transform="translate(10 502.51) rotate(-90) scale(1.03 1)" font-size="11.8" font-weight="bold" fill="#000">IL-2 (pg/mL)</text>
<rect x="59.8" y="386.8" width="6.9" height="6.9" fill="#000"/>
<text transform="translate(70.2 392.4) scale(1.17 1)" font-size="12" stroke="#1a1a1a" stroke-width="0.22" fill="#1a1a1a">2.5</text>
<text transform="translate(94.2 392.4) scale(1.13 1)" font-size="12" stroke="#1a1a1a" stroke-width="0.22" fill="#1a1a1a">mg/mL</text>
<text transform="translate(138.4 392.4) scale(1.21 1)" font-size="12" stroke="#1a1a1a" stroke-width="0.22" fill="#1a1a1a">OVA</text>
<rect x="60.1" y="402.6" width="6.3" height="6.3" fill="#fff" stroke="#333" stroke-width="1.1"/>
<rect x="59.5" y="405.15" width="7.5" height="1.2" fill="#222"/>
<text transform="translate(70.56 408.6) scale(1.14 1)" font-size="12" stroke="#1a1a1a" stroke-width="0.22" fill="#1a1a1a">1.25</text>
<text transform="translate(101.87 408.6) scale(1.17 1)" font-size="12" stroke="#1a1a1a" stroke-width="0.22" fill="#1a1a1a">mg/mL</text>
<text transform="translate(147.09 408.6) scale(1.23 1)" font-size="12" stroke="#1a1a1a" stroke-width="0.22" fill="#1a1a1a">OVA</text>
<rect x="60.1" y="418.6" width="6.3" height="6.3" fill="url(#grid)" stroke="#808080" stroke-width="1.1"/>
<text transform="translate(71.43 424.6) scale(1.18 1)" font-size="12" stroke="#1a1a1a" stroke-width="0.22" fill="#1a1a1a">0.625</text>
<text transform="translate(111.68 424.6) scale(1.16 1)" font-size="12" stroke="#1a1a1a" stroke-width="0.22" fill="#1a1a1a">mg/mL</text>
<text transform="translate(156.91 424.6) scale(1.2 1)" font-size="12" stroke="#1a1a1a" stroke-width="0.22" fill="#1a1a1a">OVA</text>
<rect x="60.1" y="434.6" width="6.3" height="6.3" fill="#fff" stroke="#777" stroke-width="1.1"/>
<text transform="translate(71.29 440.6) scale(1.15 1)" font-size="12" stroke="#1a1a1a" stroke-width="0.22" fill="#1a1a1a">no</text>
<text transform="translate(90.86 440.6) scale(1.08 1)" font-size="12" stroke="#1a1a1a" stroke-width="0.22" fill="#1a1a1a">ova</text>
<text transform="translate(3.34 705.7) scale(0.91 1)" font-size="32.91" font-weight="bold" fill="#000">C</text>
<line x1="51.1" y1="719.6" x2="515.35" y2="719.6" stroke="#888" stroke-width="1.3"/>
<line x1="514.7" y1="719.6" x2="514.7" y2="927.1" stroke="#8c8c8c" stroke-width="1.3"/>
<line x1="47.8" y1="927.1" x2="51.1" y2="927.1" stroke="#5a5a5a" stroke-width="1.1"/>
<text transform="translate(34.22 930.38) scale(1.21 1)" font-size="12.1" stroke="#1a1a1a" stroke-width="0.22" fill="#1a1a1a">0</text>
<line x1="47.8" y1="892.53" x2="51.1" y2="892.53" stroke="#5a5a5a" stroke-width="1.1"/>
<text transform="translate(19.94 895.82) scale(1.21 1)" font-size="12.1" stroke="#1a1a1a" stroke-width="0.22" fill="#1a1a1a">200</text>
<line x1="47.8" y1="857.97" x2="51.1" y2="857.97" stroke="#5a5a5a" stroke-width="1.1"/>
<text transform="translate(19.94 861.25) scale(1.21 1)" font-size="12.1" stroke="#1a1a1a" stroke-width="0.22" fill="#1a1a1a">400</text>
<line x1="47.8" y1="823.4" x2="51.1" y2="823.4" stroke="#5a5a5a" stroke-width="1.1"/>
<text transform="translate(19.94 826.68) scale(1.21 1)" font-size="12.1" stroke="#1a1a1a" stroke-width="0.22" fill="#1a1a1a">600</text>
<line x1="47.8" y1="788.83" x2="51.1" y2="788.83" stroke="#5a5a5a" stroke-width="1.1"/>
<text transform="translate(19.94 792.12) scale(1.21 1)" font-size="12.1" stroke="#1a1a1a" stroke-width="0.22" fill="#1a1a1a">800</text>
<line x1="47.8" y1="754.27" x2="51.1" y2="754.27" stroke="#5a5a5a" stroke-width="1.1"/>
<text transform="translate(11.79 757.55) scale(1.21 1)" font-size="12.1" stroke="#1a1a1a" stroke-width="0.22" fill="#1a1a1a">1000</text>
<line x1="47.8" y1="719.7" x2="51.1" y2="719.7" stroke="#5a5a5a" stroke-width="1.1"/>
<text transform="translate(11.79 722.98) scale(1.21 1)" font-size="12.1" stroke="#1a1a1a" stroke-width="0.22" fill="#1a1a1a">1200</text>
<rect x="58.8" y="925.54" width="10.8" height="1.56" fill="#000"/>
<line x1="64.2" y1="923.99" x2="64.2" y2="925.54" stroke="#606060" stroke-width="0.9"/>
<line x1="62.4" y1="923.99" x2="66" y2="923.99" stroke="#606060" stroke-width="0.9"/>
<rect x="91.6" y="926.98" width="10" height="0.12" fill="#fff" stroke="#666" stroke-width="0.8"/>
<rect x="116.75" y="920.88" width="10.8" height="6.22" fill="#000"/>
<line x1="122.15" y1="920.53" x2="122.15" y2="920.88" stroke="#606060" stroke-width="0.9"/>
<line x1="120.35" y1="920.53" x2="123.95" y2="920.53" stroke="#606060" stroke-width="0.9"/>
<rect x="127.95" y="923.52" width="10" height="3.58" fill="#fff" stroke="#333" stroke-width="0.9"/>
<rect x="127.55" y="924.5" width="10.8" height="1.6" fill="#111"/>
<line x1="132.95" y1="922.78" x2="132.95" y2="923.12" stroke="#606060" stroke-width="0.9"/>
<line x1="131.15" y1="922.78" x2="134.75" y2="922.78" stroke="#606060" stroke-width="0.9"/>
<rect x="138.8" y="922.88" width="9.9" height="4.22" fill="url(#gridc)" stroke="#444" stroke-width="0.9"/>
<line x1="143.75" y1="921.4" x2="143.75" y2="922.43" stroke="#606060" stroke-width="0.9"/>
<line x1="141.95" y1="921.4" x2="145.55" y2="921.4" stroke="#606060" stroke-width="0.9"/>
<rect x="149.55" y="927.15" width="10" height="-0.05" fill="#fff" stroke="#666" stroke-width="0.8"/>
<rect x="196.75" y="924.09" width="9.9" height="3.01" fill="url(#gridc)" stroke="#444" stroke-width="0.9"/>
<line x1="201.7" y1="920.88" x2="201.7" y2="923.64" stroke="#606060" stroke-width="0.9"/>
<line x1="199.9" y1="920.88" x2="203.5" y2="920.88" stroke="#606060" stroke-width="0.9"/>
<rect x="207.5" y="926.98" width="10" height="0.12" fill="#fff" stroke="#666" stroke-width="0.8"/>
<rect x="232.65" y="926.24" width="10.8" height="0.86" fill="#000"/>
<line x1="238.05" y1="925.89" x2="238.05" y2="926.24" stroke="#606060" stroke-width="0.9"/>
<line x1="236.25" y1="925.89" x2="239.85" y2="925.89" stroke="#606060" stroke-width="0.9"/>
<rect x="243.85" y="926.64" width="10" height="0.46" fill="#fff" stroke="#333" stroke-width="0.9"/>
<rect x="254.7" y="927.03" width="9.9" height="0.07" fill="url(#gridc)" stroke="#444" stroke-width="0.9"/>
<rect x="265.45" y="926.98" width="10" height="0.12" fill="#fff" stroke="#666" stroke-width="0.8"/>
<rect x="290.6" y="860.56" width="10.8" height="66.54" fill="#000"/>
<line x1="296" y1="847.08" x2="296" y2="860.56" stroke="#606060" stroke-width="0.9"/>
<line x1="294.2" y1="847.08" x2="297.8" y2="847.08" stroke="#606060" stroke-width="0.9"/>
<rect x="301.8" y="898.98" width="10" height="28.12" fill="#fff" stroke="#333" stroke-width="0.9"/>
<rect x="301.4" y="924.5" width="10.8" height="1.6" fill="#111"/>
<rect x="301.4" y="916.86" width="10.8" height="1.6" fill="#111"/>
<rect x="301.4" y="909.22" width="10.8" height="1.6" fill="#111"/>
<rect x="301.4" y="901.58" width="10.8" height="1.6" fill="#111"/>
<line x1="306.8" y1="893.74" x2="306.8" y2="898.58" stroke="#606060" stroke-width="0.9"/>
<line x1="305" y1="893.74" x2="308.6" y2="893.74" stroke="#606060" stroke-width="0.9"/>
<rect x="312.65" y="912.86" width="9.9" height="14.24" fill="url(#gridc)" stroke="#444" stroke-width="0.9"/>
<line x1="317.6" y1="910.16" x2="317.6" y2="912.41" stroke="#606060" stroke-width="0.9"/>
<line x1="315.8" y1="910.16" x2="319.4" y2="910.16" stroke="#606060" stroke-width="0.9"/>
<rect x="323.4" y="926.12" width="10" height="0.98" fill="#fff" stroke="#666" stroke-width="0.8"/>
<line x1="328.4" y1="924.51" x2="328.4" y2="925.72" stroke="#606060" stroke-width="0.9"/>
<line x1="326.6" y1="924.51" x2="330.2" y2="924.51" stroke="#606060" stroke-width="0.9"/>
<rect x="348.55" y="757.03" width="10.8" height="170.07" fill="#000"/>
<line x1="353.95" y1="744.76" x2="353.95" y2="757.03" stroke="#606060" stroke-width="0.9"/>
<line x1="352.15" y1="744.76" x2="355.75" y2="744.76" stroke="#606060" stroke-width="0.9"/>
<rect x="359.75" y="796.67" width="10" height="130.43" fill="#fff" stroke="#333" stroke-width="0.9"/>
<rect x="359.35" y="924.5" width="10.8" height="1.6" fill="#111"/>
<rect x="359.35" y="916.86" width="10.8" height="1.6" fill="#111"/>
<rect x="359.35" y="909.22" width="10.8" height="1.6" fill="#111"/>
<rect x="359.35" y="901.58" width="10.8" height="1.6" fill="#111"/>
<rect x="359.35" y="893.94" width="10.8" height="1.6" fill="#111"/>
<rect x="359.35" y="886.3" width="10.8" height="1.6" fill="#111"/>
<rect x="359.35" y="878.66" width="10.8" height="1.6" fill="#111"/>
<rect x="359.35" y="871.02" width="10.8" height="1.6" fill="#111"/>
<rect x="359.35" y="863.38" width="10.8" height="1.6" fill="#111"/>
<rect x="359.35" y="855.74" width="10.8" height="1.6" fill="#111"/>
<rect x="359.35" y="848.1" width="10.8" height="1.6" fill="#111"/>
<rect x="359.35" y="840.46" width="10.8" height="1.6" fill="#111"/>
<rect x="359.35" y="832.82" width="10.8" height="1.6" fill="#111"/>
<rect x="359.35" y="825.18" width="10.8" height="1.6" fill="#111"/>
<rect x="359.35" y="817.54" width="10.8" height="1.6" fill="#111"/>
<rect x="359.35" y="809.9" width="10.8" height="1.6" fill="#111"/>
<rect x="359.35" y="802.26" width="10.8" height="1.6" fill="#111"/>
<line x1="364.75" y1="786.24" x2="364.75" y2="796.27" stroke="#606060" stroke-width="0.9"/>
<line x1="362.95" y1="786.24" x2="366.55" y2="786.24" stroke="#606060" stroke-width="0.9"/>
<rect x="370.6" y="836.64" width="9.9" height="90.46" fill="url(#gridc)" stroke="#444" stroke-width="0.9"/>
<line x1="375.55" y1="826.34" x2="375.55" y2="836.19" stroke="#606060" stroke-width="0.9"/>
<line x1="373.75" y1="826.34" x2="377.35" y2="826.34" stroke="#606060" stroke-width="0.9"/>
<rect x="381.35" y="925.6" width="10" height="1.5" fill="#fff" stroke="#666" stroke-width="0.8"/>
<line x1="386.35" y1="921.74" x2="386.35" y2="925.2" stroke="#606060" stroke-width="0.9"/>
<line x1="384.55" y1="921.74" x2="388.15" y2="921.74" stroke="#606060" stroke-width="0.9"/>
<rect x="406.5" y="779.85" width="10.8" height="147.25" fill="#000"/>
<line x1="411.9" y1="765.85" x2="411.9" y2="779.85" stroke="#606060" stroke-width="0.9"/>
<line x1="410.1" y1="765.85" x2="413.7" y2="765.85" stroke="#606060" stroke-width="0.9"/>
<rect x="417.7" y="795.63" width="10" height="131.47" fill="#fff" stroke="#333" stroke-width="0.9"/>
<rect x="417.3" y="924.5" width="10.8" height="1.6" fill="#111"/>
<rect x="417.3" y="916.86" width="10.8" height="1.6" fill="#111"/>
<rect x="417.3" y="909.22" width="10.8" height="1.6" fill="#111"/>
<rect x="417.3" y="901.58" width="10.8" height="1.6" fill="#111"/>
<rect x="417.3" y="893.94" width="10.8" height="1.6" fill="#111"/>
<rect x="417.3" y="886.3" width="10.8" height="1.6" fill="#111"/>
<rect x="417.3" y="878.66" width="10.8" height="1.6" fill="#111"/>
<rect x="417.3" y="871.02" width="10.8" height="1.6" fill="#111"/>
<rect x="417.3" y="863.38" width="10.8" height="1.6" fill="#111"/>
<rect x="417.3" y="855.74" width="10.8" height="1.6" fill="#111"/>
<rect x="417.3" y="848.1" width="10.8" height="1.6" fill="#111"/>
<rect x="417.3" y="840.46" width="10.8" height="1.6" fill="#111"/>
<rect x="417.3" y="832.82" width="10.8" height="1.6" fill="#111"/>
<rect x="417.3" y="825.18" width="10.8" height="1.6" fill="#111"/>
<rect x="417.3" y="817.54" width="10.8" height="1.6" fill="#111"/>
<rect x="417.3" y="809.9" width="10.8" height="1.6" fill="#111"/>
<rect x="417.3" y="802.26" width="10.8" height="1.6" fill="#111"/>
<line x1="422.7" y1="783.48" x2="422.7" y2="795.23" stroke="#606060" stroke-width="0.9"/>
<line x1="420.9" y1="783.48" x2="424.5" y2="783.48" stroke="#606060" stroke-width="0.9"/>
<rect x="428.55" y="847.01" width="9.9" height="80.09" fill="url(#gridc)" stroke="#444" stroke-width="0.9"/>
<line x1="433.5" y1="838.61" x2="433.5" y2="846.56" stroke="#606060" stroke-width="0.9"/>
<line x1="431.7" y1="838.61" x2="435.3" y2="838.61" stroke="#606060" stroke-width="0.9"/>
<rect x="439.3" y="924.73" width="10" height="2.37" fill="#fff" stroke="#666" stroke-width="0.8"/>
<line x1="444.3" y1="921.57" x2="444.3" y2="924.33" stroke="#606060" stroke-width="0.9"/>
<line x1="442.5" y1="921.57" x2="446.1" y2="921.57" stroke="#606060" stroke-width="0.9"/>
<line x1="51.1" y1="719" x2="51.1" y2="930.1" stroke="#5a5a5a" stroke-width="1.3"/>
<line x1="51.1" y1="927.1" x2="514.7" y2="927.1" stroke="#4a4a4a" stroke-width="1.2"/>
<line x1="109.05" y1="927.1" x2="109.05" y2="930.6" stroke="#b0b0b0" stroke-width="0.9"/>
<line x1="167" y1="927.1" x2="167" y2="930.6" stroke="#b0b0b0" stroke-width="0.9"/>
<line x1="224.95" y1="927.1" x2="224.95" y2="930.6" stroke="#b0b0b0" stroke-width="0.9"/>
<line x1="282.9" y1="927.1" x2="282.9" y2="930.6" stroke="#b0b0b0" stroke-width="0.9"/>
<line x1="340.85" y1="927.1" x2="340.85" y2="930.6" stroke="#b0b0b0" stroke-width="0.9"/>
<line x1="398.8" y1="927.1" x2="398.8" y2="930.6" stroke="#b0b0b0" stroke-width="0.9"/>
<line x1="456.75" y1="927.1" x2="456.75" y2="930.6" stroke="#b0b0b0" stroke-width="0.9"/>
<line x1="514.7" y1="927.1" x2="514.7" y2="930.6" stroke="#b0b0b0" stroke-width="0.9"/>
<text x="99.4" y="937.2" font-size="13.5" letter-spacing="1.0" text-anchor="end" fill="#1a1a1a" stroke="#1a1a1a" stroke-width="0.22" transform="rotate(-45 99.4 937.2)">MSC-B</text>
<text x="144.2" y="939" font-size="13.5" letter-spacing="1.0" text-anchor="end" fill="#1a1a1a" stroke="#1a1a1a" stroke-width="0.22" transform="rotate(-45 144.2 939)">MSC-C</text>
<text x="212.6" y="936.6" font-size="13.5" letter-spacing="1.0" text-anchor="end" fill="#1a1a1a" stroke="#1a1a1a" stroke-width="0.22" transform="rotate(-45 212.6 936.6)">MSC-D</text>
<text x="258.6" y="939.2" font-size="13.5" letter-spacing="1.0" text-anchor="end" fill="#1a1a1a" stroke="#1a1a1a" stroke-width="0.22" transform="rotate(-45 258.6 939.2)">MEF</text>
<text x="322" y="937.8" font-size="13.5" letter-spacing="1.0" text-anchor="end" fill="#1a1a1a" stroke="#1a1a1a" stroke-width="0.22" transform="rotate(-45 322 937.8)">MSC-B</text>
<text x="375" y="937.8" font-size="13.5" letter-spacing="1.0" text-anchor="end" fill="#1a1a1a" stroke="#1a1a1a" stroke-width="0.22" transform="rotate(-45 375 937.8)">MSC-C</text>
<text x="433.8" y="936" font-size="13.5" letter-spacing="1.0" text-anchor="end" fill="#1a1a1a" stroke="#1a1a1a" stroke-width="0.22" transform="rotate(-45 433.8 936)">MSC-D</text>
<text x="492.8" y="938.8" font-size="13.5" letter-spacing="1.0" text-anchor="end" fill="#1a1a1a" stroke="#1a1a1a" stroke-width="0.22" transform="rotate(-45 492.8 938.8)">MEF</text>
<line x1="50.2" y1="978.8" x2="280.5" y2="978.8" stroke="#a8a8a8" stroke-width="1.3"/>
<line x1="286.3" y1="978.8" x2="516.3" y2="978.8" stroke="#a8a8a8" stroke-width="1.3"/>
<text transform="translate(136.01 994) scale(0.98 1)" font-size="15.3" font-weight="bold" fill="#000">no IFN</text>
<text transform="translate(182.34 994) scale(0.88 1)" font-size="16.2" font-family="Liberation Serif, serif" fill="#000">γ</text>
<text transform="translate(369.76 994) scale(1 1)" font-size="15.3" font-weight="bold" fill="#000">+ IFN</text>
<text transform="translate(407.34 994) scale(0.94 1)" font-size="16.2" font-family="Liberation Serif, serif" fill="#000">γ</text>
<text transform="translate(11.7 848.31) rotate(-90) scale(1.04 1)" font-size="11.8" font-weight="bold" fill="#000">IL-2 (pg/mL)</text>
<rect x="62.8" y="731.8" width="6.9" height="6.9" fill="#000"/>
<text transform="translate(73.2 737.4) scale(1.17 1)" font-size="12" stroke="#1a1a1a" stroke-width="0.22" fill="#1a1a1a">2.5</text>
<text transform="translate(97.2 737.4) scale(1.13 1)" font-size="12" stroke="#1a1a1a" stroke-width="0.22" fill="#1a1a1a">mg/mL</text>
<text transform="translate(141.4 737.4) scale(1.21 1)" font-size="12" stroke="#1a1a1a" stroke-width="0.22" fill="#1a1a1a">OVA</text>
<rect x="63.1" y="747.6" width="6.3" height="6.3" fill="#fff" stroke="#333" stroke-width="1.1"/>
<rect x="62.5" y="750.15" width="7.5" height="1.2" fill="#222"/>
<text transform="translate(73.56 753.6) scale(1.14 1)" font-size="12" stroke="#1a1a1a" stroke-width="0.22" fill="#1a1a1a">1.25</text>
<text transform="translate(104.87 753.6) scale(1.17 1)" font-size="12" stroke="#1a1a1a" stroke-width="0.22" fill="#1a1a1a">mg/mL</text>
<text transform="translate(150.09 753.6) scale(1.23 1)" font-size="12" stroke="#1a1a1a" stroke-width="0.22" fill="#1a1a1a">OVA</text>
<rect x="63.1" y="763.6" width="6.3" height="6.3" fill="url(#grid)" stroke="#808080" stroke-width="1.1"/>
<text transform="translate(74.43 769.6) scale(1.18 1)" font-size="12" stroke="#1a1a1a" stroke-width="0.22" fill="#1a1a1a">0.625</text>
<text transform="translate(114.68 769.6) scale(1.16 1)" font-size="12" stroke="#1a1a1a" stroke-width="0.22" fill="#1a1a1a">mg/mL</text>
<text transform="translate(159.91 769.6) scale(1.2 1)" font-size="12" stroke="#1a1a1a" stroke-width="0.22" fill="#1a1a1a">OVA</text>
<rect x="63.1" y="779.6" width="6.3" height="6.3" fill="#fff" stroke="#777" stroke-width="1.1"/>
<text transform="translate(74.29 785.6) scale(1.15 1)" font-size="12" stroke="#1a1a1a" stroke-width="0.22" fill="#1a1a1a">no</text>
<text transform="translate(93.86 785.6) scale(1.08 1)" font-size="12" stroke="#1a1a1a" stroke-width="0.22" fill="#1a1a1a">ova</text>
</svg></body></html>
